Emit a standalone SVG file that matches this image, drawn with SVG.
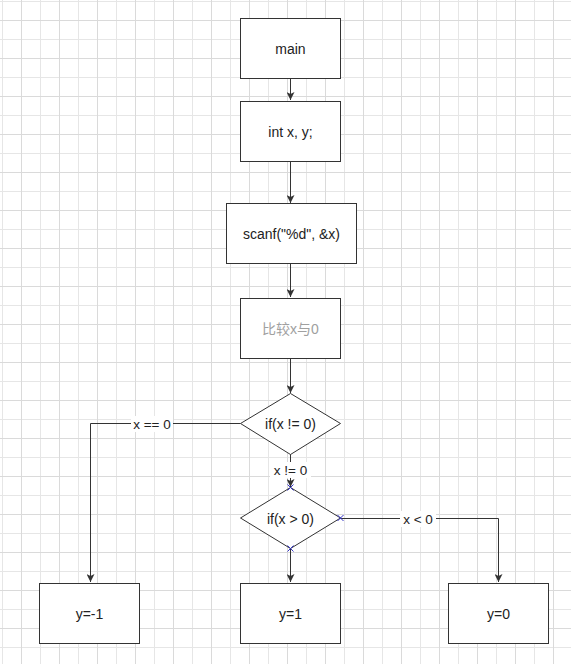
<svg xmlns="http://www.w3.org/2000/svg" width="571" height="664" viewBox="0 0 571 664">
  <style>
    .box { fill: #ffffff; stroke: #333333; stroke-width: 1; }
    .txt { font-family: "Liberation Sans", "Noto Sans CJK SC", sans-serif; font-size: 14px; fill: #222222; text-anchor: middle; dominant-baseline: central; }
    .lbl { font-family: "Liberation Sans", sans-serif; font-size: 13.5px; fill: #222222; text-anchor: middle; dominant-baseline: central; }
    .edge { fill: none; stroke: #333333; stroke-width: 1; }
    .cp { stroke: #3535c8; stroke-width: 1; fill: none; }
  </style>
  <defs>
    <pattern id="grid" patternUnits="userSpaceOnUse" x="21" y="20" width="38" height="38">
      <path d="M19.5 0V38M0 19.5H38" stroke="#e6e6e6" stroke-width="1" fill="none"/>
      <path d="M0.5 0V38M0 0.5H38" stroke="#dadada" stroke-width="1" fill="none"/>
    </pattern>
    <marker id="arr" viewBox="0 0 10 10" refX="10" refY="5" markerWidth="8" markerHeight="8" markerUnits="userSpaceOnUse" orient="auto">
      <path d="M0 0L10 5L0 10L2.5 5Z" fill="#333333"/>
    </marker>
  </defs>
  <rect x="0" y="0" width="571" height="664" fill="#ffffff"/>
  <rect x="0" y="0" width="571" height="664" fill="url(#grid)"/>

  <g id="connectors">
    <path class="edge" d="M290.5 78V100" marker-end="url(#arr)"/>
    <path class="edge" d="M290.5 161V203" marker-end="url(#arr)"/>
    <path class="edge" d="M290.5 263V297" marker-end="url(#arr)"/>
    <path class="edge" d="M290.5 358V393" marker-end="url(#arr)"/>
    <path class="edge" d="M290.5 454V487" marker-end="url(#arr)"/>
    <path class="edge" d="M240.5 423.5H90.5V582" marker-end="url(#arr)"/>
    <path class="edge" d="M340.5 518.5H498.5V582" marker-end="url(#arr)"/>
    <path class="edge" d="M290.5 548V582" marker-end="url(#arr)"/>
    <rect x="131" y="416" width="42" height="16" fill="#ffffff"/>
    <text class="lbl" x="152" y="424">x == 0</text>
    <rect x="270" y="462" width="41" height="16" fill="#ffffff"/>
    <text class="lbl" x="290.5" y="470">x != 0</text>
    <rect x="400" y="511" width="36" height="16" fill="#ffffff"/>
    <text class="lbl" x="418" y="519">x &lt; 0</text>
  </g>

  <g id="main">
    <rect class="box" x="240.5" y="18.5" width="100" height="60"/>
    <text class="txt" x="290.5" y="48.5">main</text>
  </g>
  <g id="decl">
    <rect class="box" x="240.5" y="101.5" width="100" height="60"/>
    <text class="txt" x="290.5" y="131.5">int x, y;</text>
  </g>
  <g id="scanf">
    <rect class="box" x="226.5" y="203.5" width="130" height="60"/>
    <text class="txt" x="291.5" y="233.5">scanf("%d", &amp;x)</text>
  </g>
  <g id="compare">
    <rect class="box" x="240.5" y="298.5" width="100" height="60"/>
    <text class="txt" x="290.5" y="328.5" style="fill:#a0a0a0">比较x与0</text>
  </g>
  <g id="if1">
    <path class="box" d="M290.5 393.5L340.5 423.5L290.5 454.5L240.5 423.5Z"/>
    <text class="txt" x="290.5" y="423.5">if(x != 0)</text>
  </g>
  <g id="if2">
    <path class="box" d="M290.5 487.5L340.5 518L290.5 548.5L240.5 518Z"/>
    <text class="txt" x="290.5" y="518.5">if(x &gt; 0)</text>
    <path class="cp" d="M287.5 484.5l6 6m0 -6l-6 6"/>
    <path class="cp" d="M337.5 515l6 6m0 -6l-6 6"/>
    <path class="cp" d="M287.5 545.5l6 6m0 -6l-6 6"/>
  </g>
  <g id="yneg">
    <rect class="box" x="39.5" y="583.5" width="100" height="60"/>
    <text class="txt" x="89.5" y="613.5">y=-1</text>
  </g>
  <g id="ypos">
    <rect class="box" x="240.5" y="583.5" width="100" height="60"/>
    <text class="txt" x="290.5" y="613.5">y=1</text>
  </g>
  <g id="yzero">
    <rect class="box" x="448.5" y="583.5" width="100" height="60"/>
    <text class="txt" x="498.5" y="613.5">y=0</text>
  </g>
</svg>
